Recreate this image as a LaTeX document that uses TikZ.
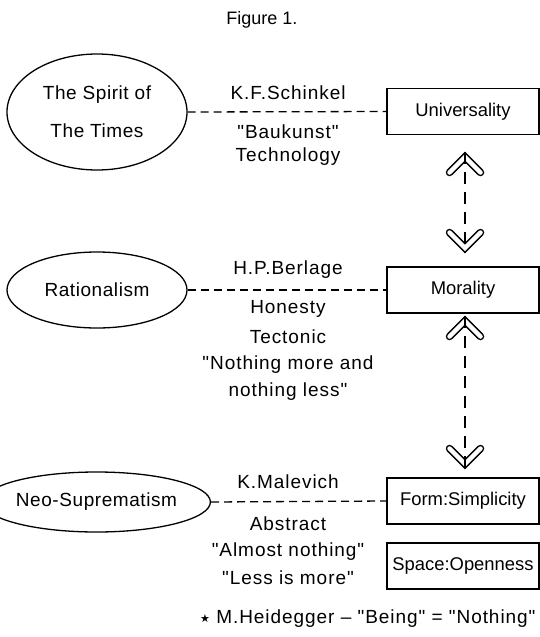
\documentclass[tikz,border=0pt]{standalone}
\usepackage{fontspec}
\setmainfont{Liberation Sans}
\newfontfamily\widefont[LetterSpace=5]{Liberation Sans}
\newfontfamily\midfont[LetterSpace=3]{Liberation Sans}
\newfontfamily\symfont{DejaVu Sans}
\newcommand\dq{\char"22\relax}
\usetikzlibrary{shapes.geometric}
\begin{document}
\begin{tikzpicture}[x=1pt,y=-1pt,
  txt/.style={font=\widefont\fontsize{19}{23}\selectfont, inner sep=0pt},
  ell/.style={ellipse, draw, line width=1.3pt, inner sep=0pt, align=center, font=\midfont\fontsize{19}{38}\selectfont},
  bx/.style={draw, line width=1.3pt, inner sep=0pt, minimum width=152pt, minimum height=46pt, font=\fontsize{18.4}{22}\selectfont},
  conn/.style={line width=1.3pt, dash pattern=on 8pt off 5pt},
  vconn/.style={line width=1.3pt, dash pattern=on 12pt off 8pt},
  chevup/.pic={
    \draw[line width=7.5pt, line cap=round, line join=miter] (-15.5,20.5) -- (0,5) -- (15.5,20.5);
    \draw[white, line width=4.5pt, line cap=round, line join=miter] (-15.5,20.5) -- (0,5) -- (15.5,20.5);
  },
  chevdown/.pic={
    \draw[line width=7.5pt, line cap=round, line join=miter] (-15.5,-20.5) -- (0,-5) -- (15.5,-20.5);
    \draw[white, line width=4.5pt, line cap=round, line join=miter] (-15.5,-20.5) -- (0,-5) -- (15.5,-20.5);
  }]
\useasboundingbox (0,0) rectangle (540,637);

\node[txt, font=\fontsize{18}{22}\selectfont] (title) at (262,20) {Figure 1.};

% row 1
\node[ell, minimum width=180pt, minimum height=116pt] (e1) at (97,112) {The Spirit of\\The Times};
\node[bx] (b1) at (463,111.5) {Universality};
\draw[conn] (e1.east) -- (b1.west);
\node[txt] (s1) at (288,93) {K.F.Schinkel};
\node[txt] (s2) at (288,132) {\dq Baukunst\dq};
\node[txt] (s3) at (288,157) {Technology};

% row 2
\node[ell, minimum width=180pt, minimum height=76pt] (e2) at (97,290) {Rationalism};
\node[bx] (b2) at (463,290) {Morality};
\draw[conn] (e2.east) -- (b2.west);
\node[txt] (r1) at (288,270) {H.P.Berlage};
\node[txt] (r2) at (288,309) {Honesty};
\node[txt] (r3) at (288,337) {Tectonic};
\node[txt] (r4) at (288,365) {\dq Nothing more and};
\node[txt] (r5) at (288,392) {nothing less\dq};

% row 3
\node[ell, minimum width=177pt, minimum height=60pt] (e3) at (96.5,502) {Neo-Suprematism};
\node[bx] (b3) at (463,501) {Form:Simplicity};
\node[bx] (b4) at (463,566) {Space:Openness};
\draw[conn] (e3.east) -- (b3.west);
\node[txt] (n1) at (288,482) {K.Malevich};
\node[txt] (n2) at (288,524) {Abstract};
\node[txt] (n3) at (288,552) {\dq Almost nothing\dq};
\node[txt] (n4) at (288,578) {\dq Less is more\dq};

% footnote
\node[txt, anchor=west] (foot) at (200,619) {{\symfont\fontsize{11}{12}\selectfont\raisebox{1.5pt}{★}} M.Heidegger – \dq Being\dq{} = \dq Nothing\dq};

% vertical arrows
\coordinate (u1) at (465,152);
\coordinate (d1) at (465,253);
\coordinate (u2) at (465,316);
\coordinate (d2) at (465,469);
\pic at (u1) {chevup};
\pic at (d1) {chevdown};
\pic at (u2) {chevup};
\pic at (d2) {chevdown};
\draw[vconn] (u1) -- (d1);
\draw[vconn] (u2) -- (d2);
\end{tikzpicture}
\end{document}
